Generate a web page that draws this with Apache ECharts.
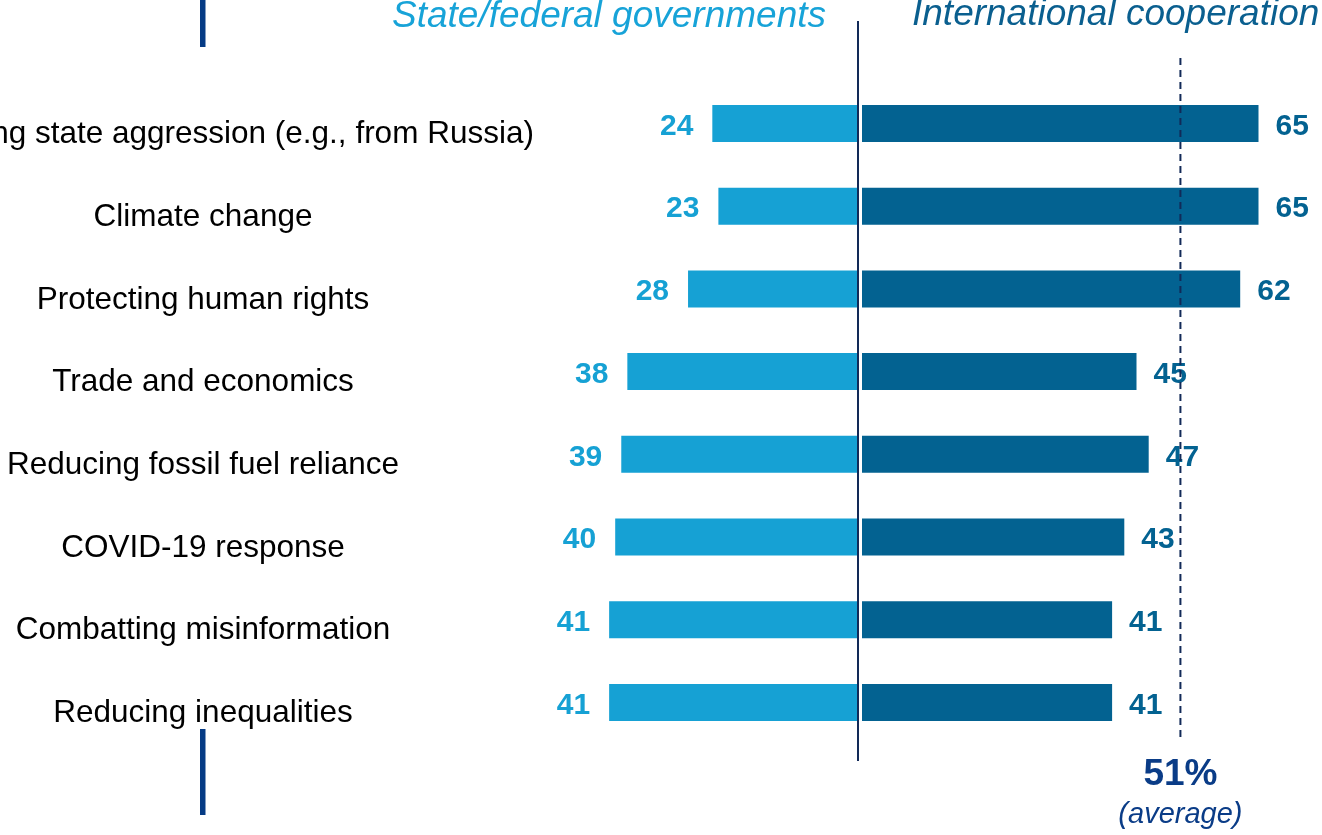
<!DOCTYPE html>
<html><head><meta charset="utf-8">
<script src="https://cdn.jsdelivr.net/npm/echarts@6/dist/echarts.min.js"></script>
<style>html,body{margin:0;padding:0;background:#fff;overflow:hidden}#c{width:1322px;height:835px}</style>
</head><body><div id="c"></div>
<script>
const categories = [
  'Countering state aggression (e.g., from Russia)',
  'Climate change',
  'Protecting human rights',
  'Trade and economics',
  'Reducing fossil fuel reliance',
  'COVID-19 response',
  'Combatting misinformation',
  'Reducing inequalities'
];
const stateValues = [24, 23, 28, 38, 39, 40, 41, 41];
const intlValues = [65, 65, 62, 45, 47, 43, 41, 41];
const seriesNames = ['State/federal governments', 'International cooperation'];
const averageLabel = '51%';
const averageNote = '(average)';
const averageLinePos = 52.2;
const leftMax = 50, rightMax = 75;

const FONT = '"Liberation Sans", Arial, Helvetica, sans-serif';
const LIGHT = '#16a1d4', DARK = '#036291', NAVY = '#0a3c87', LINE = '#122a58';

const chart = echarts.init(document.getElementById('c'), null, {renderer: 'canvas'});
const gridTop = 82.1, gridH = 661.7;
chart.setOption({
  animation: false,
  grid: [
    {left: 554.5, width: 303.5, top: gridTop, height: gridH, containLabel: false, outerBoundsMode: 'none'},
    {left: 862, width: 457.5, top: gridTop, height: gridH, containLabel: false, outerBoundsMode: 'none'}
  ],
  xAxis: [
    {gridIndex: 0, type: 'value', min: 0, max: leftMax, inverse: true, show: false},
    {gridIndex: 1, type: 'value', min: 0, max: rightMax, show: false}
  ],
  yAxis: [
    {gridIndex: 0, type: 'category', data: categories, inverse: true,
     axisLine: {show: false}, axisTick: {show: false}, splitLine: {show: false},
     axisLabel: {align: 'center', verticalAlign: 'top', lineHeight: 22, margin: 351.5, color: '#000', fontSize: 31.5, fontFamily: FONT}},
    {gridIndex: 1, type: 'category', data: categories, inverse: true, show: false}
  ],
  series: [
    {name: seriesNames[0], type: 'bar', xAxisIndex: 0, yAxisIndex: 0, data: stateValues, barWidth: 37,
     itemStyle: {color: LIGHT},
     label: {show: true, position: 'left', distance: 19, offset: [0, 3], color: LIGHT, fontSize: 30, fontWeight: 'bold', fontFamily: FONT}},
    {name: seriesNames[1], type: 'bar', xAxisIndex: 1, yAxisIndex: 1, data: intlValues, barWidth: 37,
     itemStyle: {color: DARK},
     label: {show: true, position: 'right', distance: 17, offset: [0, 3], color: DARK, fontSize: 30, fontWeight: 'bold', fontFamily: FONT}}
  ]
});

const zeroX = chart.convertToPixel({xAxisIndex: 0}, 0);
const avgX = chart.convertToPixel({xAxisIndex: 1}, averageLinePos);
chart.setOption({
  graphic: [
    {type: 'rect', z: 100, shape: {x: 200, y: 0, width: 5.5, height: 47}, style: {fill: '#053b85'}},
    {type: 'rect', z: 100, shape: {x: 200, y: 729, width: 5.5, height: 86}, style: {fill: '#053b85'}},
    {type: 'line', z: 100, shape: {x1: zeroX, y1: 21, x2: zeroX, y2: 761}, style: {stroke: LINE, lineWidth: 2}},
    {type: 'line', z: 100, shape: {x1: avgX, y1: 58, x2: avgX, y2: 740}, style: {stroke: LINE, lineWidth: 2, lineDash: [7, 5]}},
    {type: 'text', z: 100, x: 826, y: 17, style: {text: seriesNames[0], fill: '#17a3d8', font: 'italic 37px ' + FONT, textAlign: 'right', textVerticalAlign: 'middle'}},
    {type: 'text', z: 100, x: 912, y: 15, style: {text: seriesNames[1], fill: '#0a5f8f', font: 'italic 37px ' + FONT, textAlign: 'left', textVerticalAlign: 'middle'}},
    {type: 'text', z: 100, x: avgX, y: 775, style: {text: averageLabel, fill: NAVY, font: 'bold 37px ' + FONT, textAlign: 'center', textVerticalAlign: 'middle'}},
    {type: 'text', z: 100, x: avgX, y: 815, style: {text: averageNote, fill: NAVY, font: 'italic 29px ' + FONT, textAlign: 'center', textVerticalAlign: 'middle'}}
  ]
});
</script></body></html>
